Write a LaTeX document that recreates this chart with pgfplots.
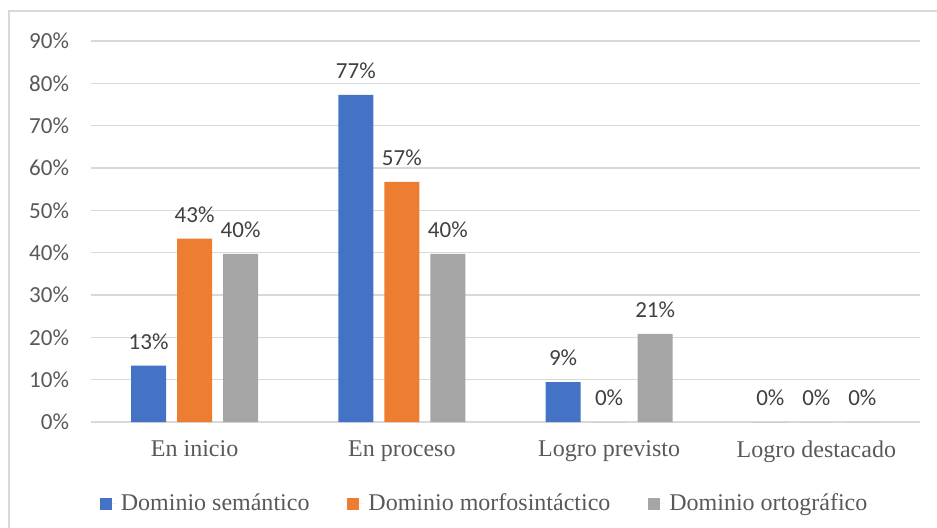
\documentclass[border=0pt]{standalone}
\usepackage{pgfplots}
\pgfplotsset{compat=1.18}
\usepackage{fontspec}
\setmainfont{Liberation Serif}
\newfontfamily\carlito{Carlito}
\definecolor{cblue}{HTML}{4472C4}
\definecolor{corange}{HTML}{ED7D31}
\definecolor{cgray}{HTML}{A5A5A5}
\definecolor{gridc}{HTML}{D9D9D9}
\definecolor{textc}{HTML}{595959}
\definecolor{labc}{HTML}{404040}
\begin{document}
\begin{tikzpicture}
\useasboundingbox (-45.5bp,-53bp) rectangle (423bp,211bp);
\draw[gridc, line width=0.9bp] (-41bp,-70bp) rectangle (440bp,205.5bp);
\begin{axis}[
  at={(0,0)}, anchor=south west,
  scale only axis, width=414.5bp, height=190.5bp,
  xmin=-0.5, xmax=3.5, ymin=0, ymax=90,
  enlargelimits=false,
  axis line style={draw=none},
  major tick length=0pt,
  ymajorgrids, grid style={gridc, line width=0.8bp},
  ytick={0,10,...,90},
  yticklabel={\pgfmathprintnumber{\tick}\%},
  /pgf/number format/assume math mode=true,
  yticklabel style={font=\carlito\fontsize{11.5bp}{13bp}\selectfont, text=textc, xshift=-7.5bp},
  xtick={0,1,2,3},
  xticklabels={En inicio, En proceso, Logro previsto, Logro destacado},
  xticklabel style={font=\fontsize{12bp}{14bp}\selectfont, text=textc, yshift=-6bp},
  ybar=5.5bp, bar width=17.5bp,
  nodes near coords={\pgfmathprintnumber[fixed,precision=0]{\pgfplotspointmeta}\%},
  nodes near coords style={font=\carlito\fontsize{11.5bp}{13bp}\selectfont, text=labc, yshift=4.5bp},
  legend style={at={(0.476,-0.215)}, anchor=center, draw=none, fill=none,
    font=\fontsize{12bp}{14bp}\selectfont, text=textc,
    /tikz/every even column/.append style={column sep=17bp}},
  legend columns=3,
  sq/.style={legend image code/.code={\fill[##1] (0bp,-3bp) rectangle (6bp,3bp); \path (0bp,0bp) -- (8.5bp,0bp);}},
]
\addplot[fill=cblue, draw=none, sq] coordinates {(0,13.3) (1,77.3) (2,9.4) (3,0)};
\addplot[fill=corange, draw=none, sq] coordinates {(0,43.3) (1,56.7) (2,0) (3,0)};
\addplot[fill=cgray, draw=none, sq] coordinates {(0,39.7) (1,39.7) (2,20.8) (3,0)};
\legend{Dominio semántico, Dominio morfosintáctico, Dominio ortográfico}
\end{axis}
\end{tikzpicture}
\end{document}
